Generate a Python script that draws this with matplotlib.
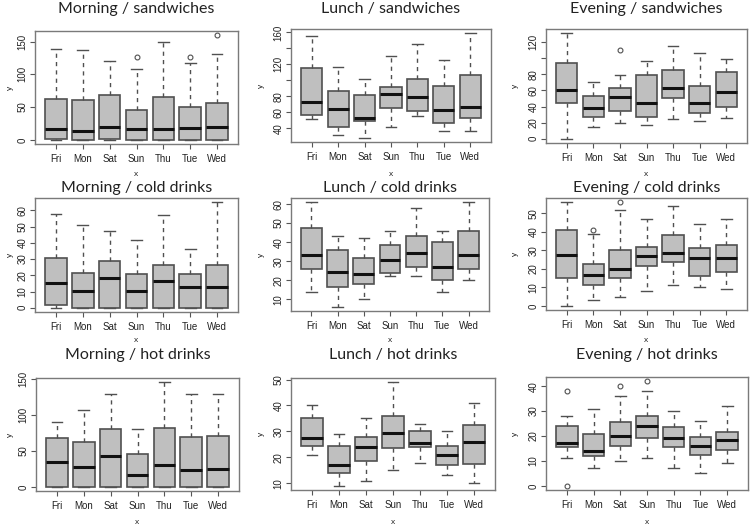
import matplotlib
matplotlib.use("Agg")
import matplotlib.pyplot as plt
import numpy as np

days = ["Fri", "Mon", "Sat", "Sun", "Thu", "Tue", "Wed"]
meals = ["Morning", "Lunch", "Evening"]
products = ["sandwiches", "cold drinks", "hot drinks"]

# Each panel: whisker low, Q1, median, Q3, whisker high per day (Fri..Wed), plus outliers
morning_sandwiches = dict(
    lo=[0, 0, 0, 0, 0, 0, 0], q1=[2, 0, 1, 0, 0, 0, 0], med=[17, 14, 20, 16, 17, 18, 19],
    q3=[63, 61, 68, 46, 66, 50, 57], hi=[139, 137, 120, 109, 150, 118, 131],
    fl=[[], [], [], [127], [], [126], [160]])
lunch_sandwiches = dict(
    lo=[52, 31, 28, 42, 55, 37, 37], q1=[56, 42, 49, 65, 61, 46, 53], med=[73, 64, 53, 83, 79, 63, 66],
    q3=[116, 87, 81, 92, 102, 93, 107], hi=[155, 117, 102, 130, 146, 126, 159],
    fl=[[], [], [], [], [], [], []])
evening_sandwiches = dict(
    lo=[0, 14, 19, 17, 24, 22, 26], q1=[44, 27, 34, 27, 51, 32, 40], med=[61, 38, 52, 44, 63, 44, 58],
    q3=[94, 53, 63, 79, 85, 65, 83], hi=[131, 70, 79, 96, 115, 106, 99],
    fl=[[], [], [110], [], [], [], []])
morning_cold = dict(
    lo=[0, 0, 0, 0, 0, 0, 0], q1=[2, 0, 0, 0, 0, 0, 0], med=[15.5, 10.5, 18.5, 10.5, 16.5, 12.5, 12.5],
    q3=[30.5, 21.5, 28.5, 21, 26.5, 20.5, 26.5], hi=[58, 51, 47, 42, 57, 36, 65],
    fl=[[], [], [], [], [], [], []])
lunch_cold = dict(
    lo=[14, 6, 10, 22, 22, 14, 20], q1=[26, 16.5, 18, 24, 27, 20, 26], med=[33.5, 24.5, 23, 30.5, 34.5, 27, 33.5],
    q3=[47.5, 36, 31.5, 38.5, 43, 40, 46], hi=[61, 43, 42, 46, 58, 46, 61],
    fl=[[], [], [], [], [], [], []])
evening_cold = dict(
    lo=[0, 3, 5, 8, 11, 10, 9], q1=[15, 11, 15, 21.5, 23.5, 16, 18.5], med=[27.5, 16.5, 20, 27, 28.5, 26, 26],
    q3=[41, 22.5, 30, 32, 38, 31, 33], hi=[56, 39, 52, 47, 54, 44, 47],
    fl=[[], [41], [56], [], [], [], []])
morning_hot = dict(
    lo=[0, 0, 0, 0, 0, 0, 0], q1=[0, 0, 0, 0, 0, 0, 0], med=[34, 28, 43, 16, 31, 24, 25],
    q3=[68, 63, 80, 46, 82, 70, 71], hi=[91, 107, 130, 81, 146, 129, 129],
    fl=[[], [], [], [], [], [], []])
lunch_hot = dict(
    lo=[21, 9, 11, 15, 18, 13, 10], q1=[24.5, 14, 18.5, 23.5, 24, 17, 17.5], med=[27.5, 17, 24, 29.5, 25.5, 21, 26],
    q3=[35, 24.5, 28, 36, 30, 24.5, 32.5], hi=[40, 29, 35, 49, 33, 30, 41],
    fl=[[], [], [], [], [], [], []])
evening_hot = dict(
    lo=[11, 7, 10, 11, 7, 5, 9], q1=[15.5, 12, 16, 19, 15.5, 12.5, 14.5], med=[17, 14, 20, 24, 19, 16, 18.5],
    q3=[24, 21, 25.5, 28, 23.5, 19.5, 21.5], hi=[28, 31, 36, 38, 30, 26, 32],
    fl=[[38, 0], [], [40], [42], [], [], []])

panels = [
    [morning_sandwiches, lunch_sandwiches, evening_sandwiches],
    [morning_cold, lunch_cold, evening_cold],
    [morning_hot, lunch_hot, evening_hot],
]

# y ticks per panel and their labels ("" where the label is suppressed)
yticks = [
    [[0, 50, 100, 150], [40, 60, 80, 100, 120, 140, 160], [0, 20, 40, 60, 80, 100, 120]],
    [[0, 10, 20, 30, 40, 50, 60], [10, 20, 30, 40, 50, 60], [0, 10, 20, 30, 40, 50]],
    [[0, 50, 100, 150], [10, 20, 30, 40, 50], [0, 10, 20, 30, 40]],
]
ylabels_shown = [
    [["0", "50", "100", "150"], ["40", "60", "80", "", "120", "", "160"], ["0", "20", "40", "60", "80", "", "120"]],
    [["0", "10", "20", "30", "40", "50", "60"], ["10", "20", "30", "40", "50", "60"], ["0", "10", "20", "30", "40", "50"]],
    [["0", "50", "100", "150"], ["10", "20", "30", "40", "50"], ["0", "10", "20", "30", "40"]],
]

W, H = 750, 527
plt.rcParams["font.family"] = ["Liberation Sans", "DejaVu Sans"]
fig = plt.figure(figsize=(W / 100, H / 100), dpi=100)
fig.patch.set_facecolor("white")

# axes boxes in pixels: (left, top, right, bottom)
boxes = [
    [(35, 31, 238, 144), (291, 29, 491, 142), (546, 29, 747, 143)],
    [(35, 198, 238, 312), (291, 198, 489, 311), (546, 198, 747, 310)],
    [(36, 378, 239, 491), (291, 378, 495, 490), (546, 377, 748, 490)],
]
title_y = [9, 188, 355]
xlab_y = [174, 341, 522]
ylab_x = [10, 261, 515]

gray_edge = "#505050"
fill = "#bfbfbf"

for r in range(3):
    for c in range(3):
        d = panels[r][c]
        l, t, rr, b = boxes[r][c]
        ax = fig.add_axes([l / W, 1 - b / H, (rr - l) / W, (b - t) / H])
        stats = []
        for i, day in enumerate(days):
            stats.append(dict(label=day, whislo=d["lo"][i], q1=d["q1"][i], med=d["med"][i],
                              q3=d["q3"][i], whishi=d["hi"][i], fliers=d["fl"][i]))
        ax.bxp(stats, positions=np.arange(1, 8), widths=0.8, patch_artist=True, showfliers=True,
               boxprops=dict(facecolor=fill, edgecolor=gray_edge, linewidth=1.2),
               medianprops=dict(color="#111111", linewidth=2.2, solid_capstyle="butt"),
               whiskerprops=dict(color=gray_edge, linewidth=1.0, linestyle=(0, (3, 3))),
               capprops=dict(color=gray_edge, linewidth=1.0),
               capwidths=0.4,
               flierprops=dict(marker="o", markersize=3.5, markerfacecolor="none",
                               markeredgecolor=gray_edge, markeredgewidth=0.8))
        allv = d["lo"] + d["hi"] + [v for f in d["fl"] for v in f]
        lo, hi = min(allv), max(allv)
        pad = (hi - lo) * 0.04
        ax.set_ylim(lo - pad, hi + pad)
        ax.set_xlim(0.22, 7.78)
        ax.set_xticks(np.arange(1, 8))
        ax.set_xticklabels(days)
        ax.set_yticks(yticks[r][c])
        ax.set_yticklabels(ylabels_shown[r][c], rotation=90, va="center")
        ax.tick_params(axis="both", direction="out", length=3.5, width=0.8, color="#555555",
                       labelsize=7, labelcolor="#222222", pad=2)
        ax.tick_params(axis="x", pad=4)
        for s in ax.spines.values():
            s.set_color("#7a7a7a")
            s.set_linewidth(1.0)
        cx = (l + rr) / 2 / W
        fig.text(cx, 1 - title_y[r] / H, f"{meals[c]} / {products[r]}", ha="center", va="center",
                 fontsize=11.5, color="#222222", family=["Lato", "DejaVu Sans"])
        fig.text(cx, 1 - xlab_y[r] / H, "x", ha="center", va="center", fontsize=6, color="#222222")
        fig.text(ylab_x[c] / W, 1 - (t + b) / 2 / H, "y", ha="center", va="center", fontsize=6,
                 rotation=90, color="#222222")

fig.savefig("out.png", dpi=100, facecolor="white")
